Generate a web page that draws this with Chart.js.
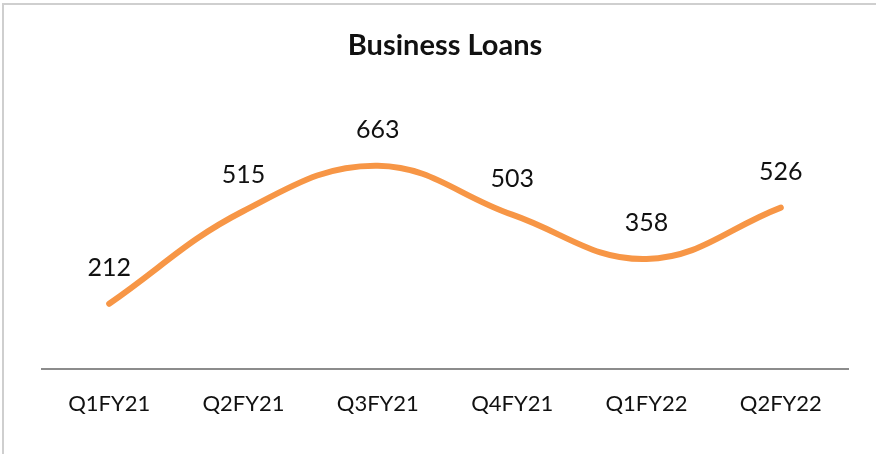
<!DOCTYPE html>
<html>
<head>
<meta charset="utf-8">
<script src="https://cdn.jsdelivr.net/npm/chart.js@4"></script>
<style>
  html, body { margin: 0; padding: 0; background: #fff; }
  #wrap { position: relative; width: 876px; height: 454px; }
</style>
</head>
<body>
<div id="wrap"><canvas id="chart" width="876" height="454"></canvas></div>
<script>
// chart data
const quarters = ['Q1FY21', 'Q2FY21', 'Q3FY21', 'Q4FY21', 'Q1FY22', 'Q2FY22'];
const loans = [212, 515, 663, 503, 358, 526];

const FONT = 'Lato, "Open Sans", sans-serif';

// thin grey frame on the left and top edge
const framePlugin = {
    id: 'frame',
    beforeDraw(chart) {
        const ctx = chart.ctx;
        ctx.save();
        ctx.strokeStyle = '#cfcfcf';
        ctx.lineWidth = 2;
        ctx.beginPath();
        ctx.moveTo(3, chart.height);
        ctx.lineTo(3, 4);
        ctx.lineTo(chart.width, 4);
        ctx.stroke();
        ctx.restore();
    }
};

// value labels above each point
const valueLabels = {
    id: 'valueLabels',
    afterDatasetsDraw(chart) {
        const ctx = chart.ctx;
        const meta = chart.getDatasetMeta(0);
        ctx.save();
        ctx.font = '25px ' + FONT;
        ctx.fillStyle = '#111';
        ctx.textAlign = 'center';
        ctx.textBaseline = 'middle';
        meta.data.forEach((pt, i) => {
            ctx.fillText(String(loans[i]), pt.x, pt.y - 36);
        });
        ctx.restore();
    }
};

new Chart(document.getElementById('chart'), {
    type: 'line',
    data: {
        labels: quarters,
        datasets: [{
            label: 'Business Loans',
            data: loans,
            borderColor: '#F79646',
            borderWidth: 6,
            borderCapStyle: 'round',
            tension: 0.4,
            pointRadius: 0,
            fill: false
        }]
    },
    options: {
        responsive: false,
        animation: false,
        layout: { padding: { left: 42, right: 28, top: 0, bottom: 15 } },
        plugins: {
            legend: { display: false },
            tooltip: { enabled: false },
            title: {
                display: true,
                text: 'Business Loans',
                color: '#111',
                font: { family: FONT, size: 29, weight: 'bold' },
                padding: { top: 28, bottom: 61 }
            }
        },
        scales: {
            x: {
                offset: true,
                grid: { display: false, drawTicks: false },
                border: { display: true, color: '#8c8c8c', width: 2 },
                ticks: { color: '#111', padding: 22, font: { family: FONT, size: 22 } }
            },
            y: {
                display: false,
                min: 0,
                max: 800
            }
        }
    },
    plugins: [framePlugin, valueLabels]
});
</script>
</body>
</html>
